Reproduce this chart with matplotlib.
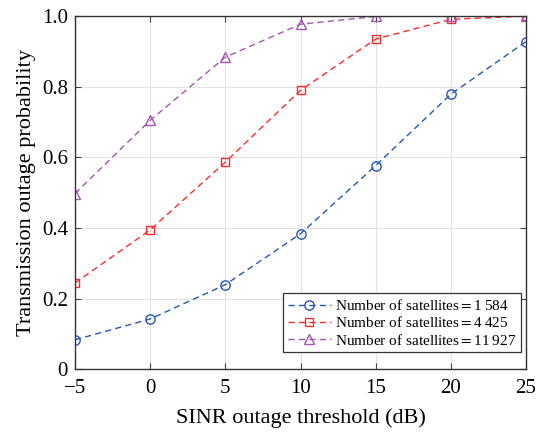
import numpy as np
import matplotlib
matplotlib.use("Agg")
import matplotlib.pyplot as plt

plt.rcParams['font.family'] = ['Liberation Serif', 'DejaVu Serif']
plt.rcParams['mathtext.fontset'] = 'stix'

# data
thresholds = [-5, 0, 5, 10, 15, 20, 25]
p_1584 = [0.084, 0.143, 0.240, 0.384, 0.577, 0.779, 0.928]
p_4425 = [0.245, 0.395, 0.587, 0.790, 0.935, 0.991, 1.000]
p_11927 = [0.498, 0.705, 0.884, 0.977, 0.999, 1.000, 1.000]
labels = ["Number of satellites$=$1\u2009584",
          "Number of satellites$=$4\u2009425",
          "Number of satellites$=$11\u2009927"]

fig = plt.figure(figsize=(5.46, 4.32), dpi=100)
ax = fig.add_axes([0.1374, 0.1447, 0.826, 0.818])

dash = (4.5, 3.0)
ax.plot(thresholds, p_1584, ls='--', dashes=dash, marker='o', color='#2557b5', mfc='none',
        ms=6.7, lw=1.0, mew=1.0, label=labels[0])
ax.plot(thresholds, p_4425, ls='--', dashes=dash, marker='s', color='#f92d2d', mfc='none',
        ms=6.0, lw=1.0, mew=1.0, label=labels[1])
ax.plot(thresholds, p_11927, ls='--', dashes=dash, marker='^', color='#a653b4', mfc='none',
        ms=7.5, lw=1.0, mew=1.0, label=labels[2])

ax.set_xlim(-5, 25)
ax.set_ylim(0, 1)
ax.set_xticks(thresholds)
ax.set_xticklabels(['\u22125', '0', '5', '10', '15', '20', '25'])
ax.set_yticks([0, 0.2, 0.4, 0.6, 0.8, 1.0])
ax.set_yticklabels(['0', '0.2', '0.4', '0.6', '0.8', '1.0'])
ax.grid(True, color='#e3e3e3', lw=0.8)
ax.set_axisbelow(True)
ax.tick_params(direction='in', top=True, right=True, labelsize=15, length=4,
               color='#444444', pad=5)
ax.tick_params(axis='x', pad=7)
for s in ax.spines.values():
    s.set_color('#333333')
    s.set_linewidth(1.0)

ax.set_xlabel('SINR outage threshold (dB)', fontsize=16, labelpad=7)
ax.set_ylabel('Transmission outage probability', fontsize=16, labelpad=4)

leg = ax.legend(loc='lower right', bbox_to_anchor=(0.989, 0.049), fontsize=11.0,
                fancybox=False, edgecolor='#333333', framealpha=1,
                handlelength=2.8, handletextpad=0.3, borderpad=0.3,
                labelspacing=0.15, borderaxespad=0.0)
leg.get_frame().set_linewidth(0.9)

fig.savefig('out.png', dpi=100)
